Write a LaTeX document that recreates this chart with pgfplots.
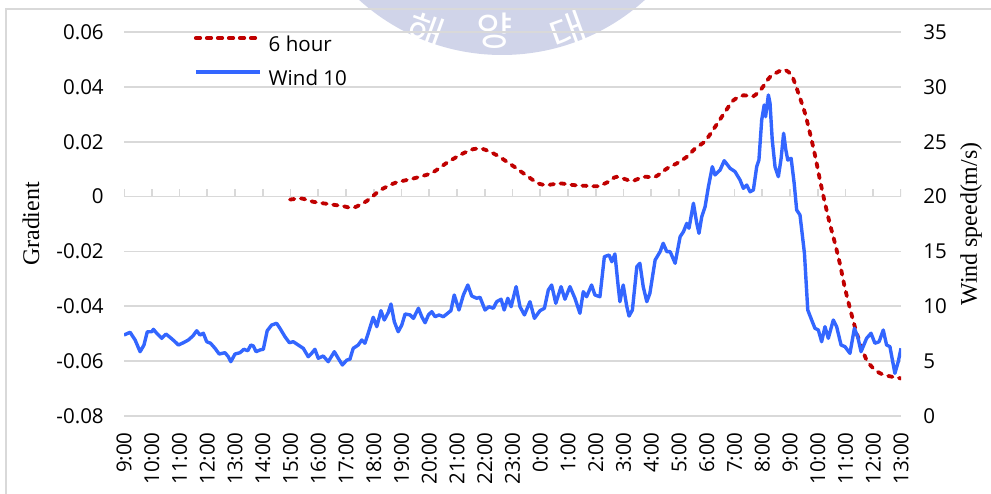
\documentclass[border=0pt]{standalone}
\usepackage{pgfplots}
\pgfplotsset{compat=1.18}
\usepackage{pgfplotstable}
\usepackage{fontspec}
\setmainfont{Open Sans}
\newfontfamily\seriffont{Liberation Serif}
\newfontfamily\krfont{Noto Sans CJK KR}
\definecolor{redline}{RGB}{192,0,0}
\definecolor{blueline}{RGB}{51,102,255}
\definecolor{gridc}{RGB}{217,217,217}
\definecolor{wmc}{RGB}{208,212,233}
\newcommand{\tickfont}{\fontsize{14.6}{17}\selectfont}

\pgfplotstableread{
h w
0.00 7.38
0.22 7.63
0.40 6.93
0.58 5.86
0.72 6.47
0.84 7.68
1.00 7.68
1.06 7.90
1.18 7.54
1.36 7.08
1.51 7.47
1.66 7.17
1.84 6.77
1.96 6.47
2.14 6.68
2.32 6.93
2.48 7.29
2.62 7.77
2.74 7.38
2.86 7.54
2.98 6.77
3.12 6.63
3.28 6.17
3.43 5.65
3.64 5.77
3.76 5.40
3.85 4.95
4.00 5.65
4.18 5.77
4.32 6.08
4.46 5.95
4.57 6.47
4.66 6.38
4.76 5.86
4.90 6.02
5.02 6.08
5.16 7.77
5.32 8.29
5.50 8.45
5.62 7.99
5.80 7.23
5.96 6.68
6.10 6.77
6.28 6.47
6.46 6.17
6.64 5.40
6.76 5.71
6.88 6.08
7.00 5.26
7.18 5.47
7.36 4.95
7.58 5.86
7.72 5.26
7.87 4.65
8.03 5.10
8.14 5.17
8.26 6.17
8.44 6.47
8.57 6.93
8.68 6.63
8.78 7.38
8.98 9.00
9.11 8.14
9.26 9.60
9.38 8.75
9.52 9.42
9.62 10.21
9.74 8.60
9.88 7.68
10.01 8.29
10.13 9.30
10.31 9.21
10.43 8.90
10.61 9.82
10.73 9.05
10.85 8.50
10.97 9.21
11.09 9.51
11.21 9.05
11.35 9.21
11.51 9.05
11.69 9.42
11.78 9.60
11.90 11.03
12.07 9.66
12.23 11.03
12.39 11.94
12.53 10.94
12.71 10.73
12.83 10.82
13.01 9.66
13.15 9.96
13.31 9.82
13.43 10.42
13.59 10.64
13.70 9.66
13.83 10.73
13.95 9.96
14.13 11.79
14.27 9.96
14.43 9.21
14.63 10.42
14.79 8.90
14.99 9.60
15.15 9.82
15.29 11.48
15.41 11.94
15.56 10.27
15.75 11.79
15.89 10.64
16.07 11.79
16.25 10.73
16.43 9.36
16.55 11.33
16.67 10.87
16.85 11.94
16.97 11.03
17.15 10.87
17.31 14.52
17.48 14.67
17.58 14.06
17.69 14.77
17.81 11.79
17.87 10.42
17.99 11.94
18.12 9.96
18.20 9.11
18.32 9.66
18.48 13.61
18.59 13.92
18.71 11.79
18.84 10.42
18.95 11.18
19.14 14.22
19.32 14.98
19.43 15.74
19.56 14.98
19.68 14.98
19.86 13.92
20.04 16.34
20.16 16.80
20.28 17.56
20.36 17.11
20.52 19.39
20.64 17.56
20.72 16.65
20.82 18.17
20.94 19.08
21.06 20.90
21.20 22.72
21.30 21.97
21.48 22.42
21.63 23.27
21.84 22.58
22.02 22.27
22.20 21.51
22.32 20.75
22.44 21.05
22.56 20.44
22.68 20.60
22.80 22.72
22.88 23.33
22.98 26.98
23.07 28.35
23.12 27.28
23.22 29.26
23.28 28.50
23.36 25.16
23.46 22.72
23.58 21.81
23.68 23.49
23.77 25.77
23.85 24.24
23.92 23.33
24.04 23.49
24.15 21.21
24.24 18.78
24.36 18.32
24.52 14.83
24.64 9.66
24.78 8.75
24.90 7.99
25.02 7.84
25.14 6.77
25.26 8.14
25.38 7.08
25.56 8.75
25.68 8.14
25.84 6.47
25.98 6.32
26.16 5.71
26.32 7.99
26.44 7.23
26.56 5.86
26.76 7.08
26.92 7.54
27.06 6.63
27.21 6.77
27.36 7.84
27.48 6.47
27.60 6.32
27.78 3.89
27.90 4.95
28.00 6.17
}\windtable

\pgfplotstableread{
h g
5.98 -0.0011
6.40 -0.0007
6.82 -0.0019
7.42 -0.0028
7.90 -0.0035
8.26 -0.0041
8.75 -0.0016
9.23 0.0023
9.77 0.0050
10.43 0.0066
11.09 0.0086
11.63 0.0123
12.17 0.0155
12.59 0.0173
12.95 0.0173
13.43 0.0151
14.03 0.0111
14.57 0.0072
14.93 0.0048
15.23 0.0042
15.71 0.0048
16.19 0.0042
16.67 0.0039
17.09 0.0038
17.45 0.0054
17.75 0.0072
18.30 0.0057
18.71 0.0072
19.14 0.0072
19.56 0.0102
19.92 0.0121
20.28 0.0145
20.58 0.0175
20.94 0.0202
21.30 0.0254
21.66 0.0309
21.96 0.0351
22.32 0.0369
22.68 0.0366
22.98 0.0394
23.28 0.0436
23.76 0.0463
24.06 0.0442
24.29 0.0380
24.54 0.0304
24.72 0.0231
24.90 0.0151
25.08 0.0060
25.26 -0.0024
25.44 -0.0101
25.62 -0.0170
25.80 -0.0246
25.98 -0.0334
26.16 -0.0407
26.34 -0.0476
26.52 -0.0534
26.76 -0.0596
27.00 -0.0626
27.24 -0.0644
27.54 -0.0654
28.00 -0.0663
}\gradtable

\begin{document}
\begin{tikzpicture}
% watermark
\fill[wmc] (125.5mm,162.75mm) circle (53.25mm);
\node[white, inner sep=0pt, rotate=-20, font=\krfont\fontsize{28}{28}\selectfont] at (106.5mm,115.3mm) {해};
\node[white, inner sep=0pt, rotate=0, font=\krfont\fontsize{28}{28}\selectfont] at (123.75mm,115.5mm) {양};
\node[white, inner sep=0pt, rotate=20, font=\krfont\fontsize{28}{28}\selectfont] at (142mm,115.3mm) {대};
% chart border
\draw[gridc, line width=0.3mm] (1.5mm,-5mm) -- (1.5mm,121mm) -- (260mm,121mm);

\begin{axis}[
  at={(31mm,19.25mm)}, anchor=south west,
  scale only axis, width=194.25mm, height=96mm,
  xmin=0, xmax=28, ymin=-0.08, ymax=0.06,
  axis line style={draw=none},
  scaled y ticks=false, scaled x ticks=false,
  xtick={0,...,28},
  xticklabels={9:00,10:00,11:00,12:00,13:00,14:00,15:00,16:00,17:00,18:00,19:00,20:00,21:00,22:00,23:00,0:00,1:00,2:00,3:00,4:00,5:00,6:00,7:00,8:00,9:00,10:00,11:00,12:00,13:00},
  ytick={-0.08,-0.06,-0.04,-0.02,0,0.02,0.04,0.06},
  yticklabels={-0.08,-0.06,-0.04,-0.02,0,0.02,0.04,0.06},
  major tick length=0pt,
  ymajorgrids, grid style={gridc, line width=0.4mm},
  tick label style={font=\tickfont},
  xticklabel style={rotate=90, anchor=east, inner sep=0pt},
  xticklabel shift=4mm,
  yticklabel style={anchor=east, inner sep=0pt},
  yticklabel shift=5mm,
  legend style={at={(0.09,0.99)}, anchor=north west, draw=none, fill=none,
    inner sep=0pt, outer sep=0pt, row sep=3.6mm, column sep=1.75mm,
    font=\tickfont, nodes={inner sep=0pt, text height=4mm, text depth=0.9mm}},
  legend cell align=left,
  legend image code/.code={\draw[#1] (0mm,1.9mm) -- (16mm,1.9mm);},
]
\draw[gridc, line width=0.4mm] (axis cs:0,0) -- (axis cs:28,0);
\pgfplotsinvokeforeach{0,...,28}{\draw[gridc, line width=0.4mm] (axis cs:#1,0) -- ++(0pt,2mm);}
\addplot[redline, line width=0.95mm, dash pattern=on 1.1mm off 1.65mm, line cap=round, smooth, tension=0.4] table[x=h,y=g]{\gradtable};
\addlegendentry{6 hour}
\addlegendimage{blueline, line width=0.85mm}
\addlegendentry{Wind 10}
\end{axis}

\begin{axis}[
  at={(31mm,19.25mm)}, anchor=south west,
  scale only axis, width=194.25mm, height=96mm,
  xmin=0, xmax=28, ymin=0, ymax=35,
  axis x line=none, axis y line*=right,
  axis line style={draw=none},
  ytick={0,5,10,15,20,25,30,35},
  yticklabels={0,5,10,15,20,25,30,35},
  major tick length=0pt,
  yticklabel style={anchor=west, inner sep=0pt, font=\tickfont},
  yticklabel shift=5.5mm,
]
\addplot[blueline, line width=0.85mm, line join=round] table[x=h,y=w]{\windtable};
\end{axis}

\node[rotate=90, font=\seriffont\fontsize{17}{20}\selectfont] at (7.75mm,67.25mm) {Gradient};
\node[rotate=90, font=\seriffont\fontsize{17}{20}\selectfont] at (242.75mm,67.25mm) {Wind speed(m/s)};

\pgfresetboundingbox
\useasboundingbox (0,0) rectangle (247.75mm,123.25mm);
\end{tikzpicture}
\end{document}
